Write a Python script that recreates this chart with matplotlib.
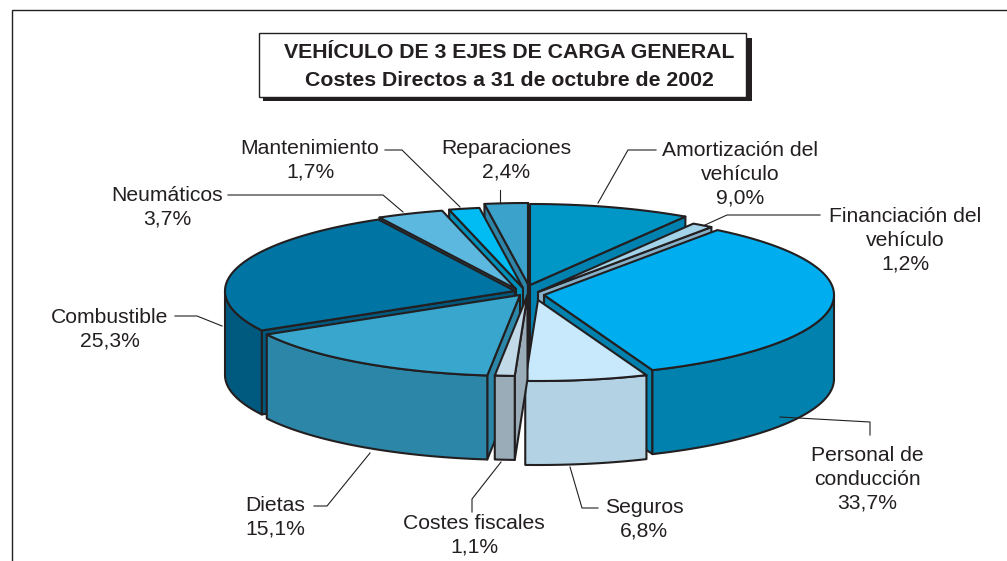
import numpy as np
import matplotlib
matplotlib.use("Agg")
import matplotlib.pyplot as plt
from matplotlib.patches import Polygon, Rectangle

plt.rcParams['font.family'] = ['Liberation Sans', 'DejaVu Sans']

# share of each cost, clockwise from 12 o'clock
names = ["Amortización del\nvehículo", "Financiación del\nvehículo", "Personal de\nconducción",
         "Seguros", "Costes fiscales", "Dietas", "Combustible", "Neumáticos",
         "Mantenimiento", "Reparaciones"]
values = [9.0, 1.2, 33.7, 6.8, 1.1, 15.1, 25.3, 3.7, 1.7, 2.4]
pct_labels = ["9,0%", "1,2%", "33,7%", "6,8%", "1,1%", "15,1%", "25,3%", "3,7%", "1,7%", "2,4%"]
top_colors = ["#0097c7", "#a3d3e8", "#00aeef", "#c8e9fb", "#c2dae8",
              "#38a6cd", "#0074a2", "#5db8e0", "#00bcf2", "#3ba3cb"]
side_colors = ["#0082b0", "#86b0c8", "#0081ae", "#b3d3e4", "#99acb8",
               "#2b86a8", "#005a7f", "#3f8fb2", "#0090ba", "#2d84a6"]

title_lines = "VEHÍCULO DE 3 EJES DE CARGA GENERAL\nCostes Directos a 31 de octubre de 2002"

ink = "#231f20"
rx, ry = 290, 81
depth = 84

# where each exploded slice has its tip, in picture pixels
apex = [(530, 285), (538, 292), (544, 295), (538, 300), (527.5, 295),
        (520, 295), (515, 291), (516, 289), (523, 288), (528, 284)]

# label centre and leader line for each slice, in picture pixels
label_pos = [(740, 174), (905, 240), (867, 479), (644, 519), (474, 535),
             (275, 517), (110, 329), (167, 207), (310, 160), (506, 160)]
leaders = [[(656, 150), (628, 150), (598, 203)],
           [(820, 215), (727, 215), (705, 225)],
           [(870, 435), (870, 422), (780, 417)],
           [(598, 508), (582, 508), (570, 467)],
           [(472, 512), (472, 499), (501, 462)],
           [(314, 506), (327, 506), (370, 453)],
           [(175, 316), (197, 316), (222, 326)],
           [(228, 195), (383, 195), (403, 212)],
           [(385, 150), (402, 150), (460, 207)],
           [(500, 190), (500, 203)]]


def point(theta, ox, oy):
    return ox + rx * np.sin(theta), oy - ry * np.cos(theta)


fig = plt.figure(figsize=(10.07, 5.61), dpi=100)
ax = fig.add_axes([0, 0, 1, 1])
ax.set_xlim(0, 1007)
ax.set_ylim(561, 0)
ax.axis("off")

# frame, cut off by the right and bottom edge of the scan
ax.plot([12, 12, 1007], [561, 10, 10], color=ink, lw=1.0, solid_joinstyle="miter")

# title box with hard shadow
ax.add_patch(Rectangle((263, 38), 489, 63, fc=ink, ec="none"))
ax.add_patch(Rectangle((259, 33), 487, 64, fc="white", ec=ink, lw=1.0))
ax.text(509, 66.5, title_lines, ha="center", va="center", fontsize=15.35, fontweight="bold",
        color=ink, linespacing=1.58)

edges = np.radians(np.cumsum([0] + values) * 3.6)
mids = (edges[:-1] + edges[1:]) / 2

# paint from the back of the pie to the front
for i in np.argsort(-np.cos(mids)):
    t1, t2 = edges[i], edges[i + 1]
    ox, oy = apex[i]
    edge_style = dict(ec=ink, lw=1.5, joinstyle="round")

    # cut faces that look towards the viewer
    if np.sin(t1) < 0:
        x, y = point(t1, ox, oy)
        ax.add_patch(Polygon([(ox, oy), (x, y), (x, y + depth), (ox, oy + depth)],
                             fc=side_colors[i], **edge_style))
    if np.sin(t2) > 0:
        x, y = point(t2, ox, oy)
        ax.add_patch(Polygon([(ox, oy), (x, y), (x, y + depth), (ox, oy + depth)],
                             fc=side_colors[i], **edge_style))

    # outer wall, only the front half of the rim shows
    lo, hi = max(t1, np.pi / 2), min(t2, 3 * np.pi / 2)
    if lo < hi:
        th = np.linspace(lo, hi, 80)
        xs, ys = point(th, ox, oy)
        ax.add_patch(Polygon(np.r_[np.c_[xs, ys], np.c_[xs, ys + depth][::-1]],
                             fc=side_colors[i], **edge_style))

    # top face
    th = np.linspace(t1, t2, 120)
    xs, ys = point(th, ox, oy)
    ax.add_patch(Polygon(np.r_[[(ox, oy)], np.c_[xs, ys]], fc=top_colors[i], **edge_style))

for i, name in enumerate(names):
    ax.text(label_pos[i][0], label_pos[i][1], name + "\n" + pct_labels[i], ha="center", va="center",
            fontsize=15.2, color=ink, linespacing=1.31)
    xs, ys = zip(*leaders[i])
    ax.plot(xs, ys, color=ink, lw=0.8)

fig.savefig("out.png", dpi=100)
